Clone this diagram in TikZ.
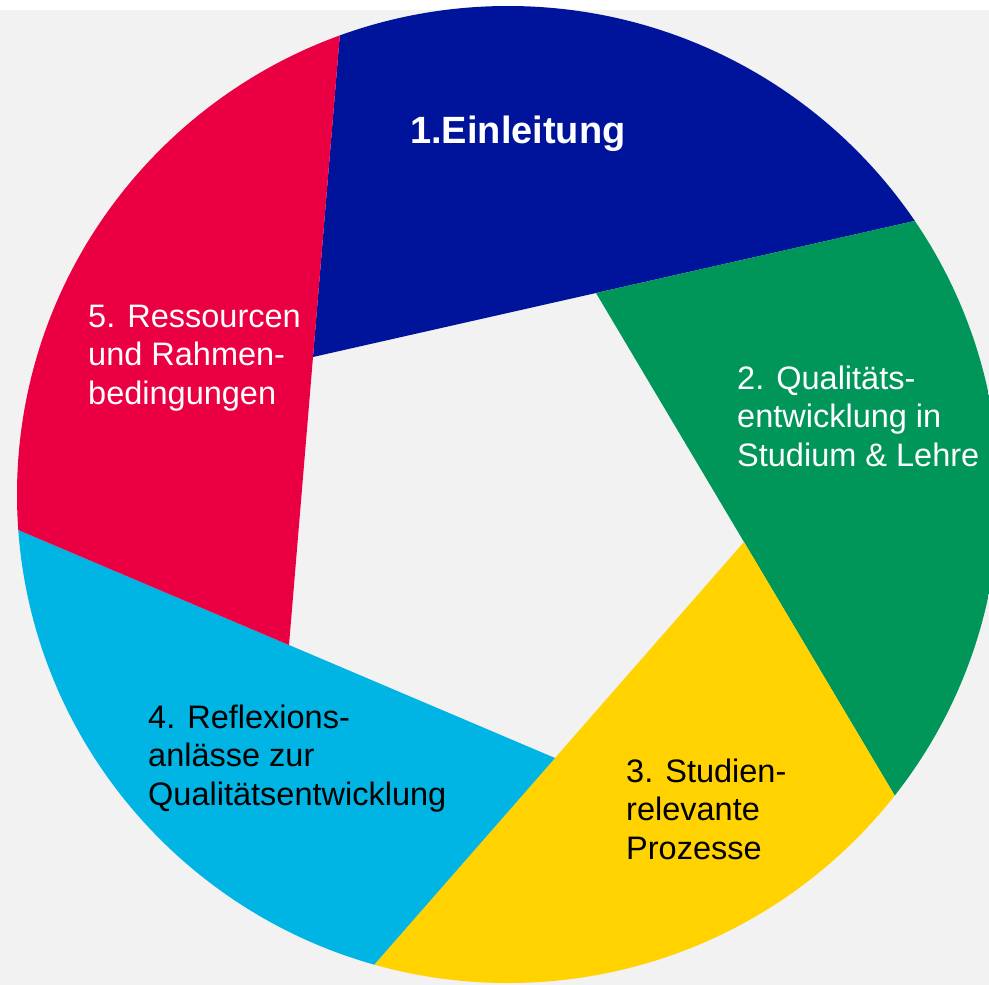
\documentclass[tikz,border=0pt]{standalone}
\usepackage{fontspec}
\setmainfont{Liberation Sans}
\usetikzlibrary{calc}
\definecolor{bgray}{RGB}{242,242,242}
\definecolor{bladeblue}{RGB}{0,20,155}
\definecolor{bladered}{RGB}{234,0,66}
\definecolor{bladegreen}{RGB}{0,150,90}
\definecolor{bladeyellow}{RGB}{255,210,0}
\definecolor{bladecyan}{RGB}{0,180,228}
\begin{document}
\begin{tikzpicture}[x=1pt,y=-1pt,
  lbl/.style={anchor=base west, inner sep=0pt, font=\fontsize{32.5}{38.5}\selectfont},
  ttl/.style={anchor=base west, inner sep=0pt, font=\fontsize{38}{38}\selectfont\bfseries}]
\useasboundingbox (0,0) rectangle (989,985);
\fill[white] (0,0) rectangle (989,985);
\fill[bgray] (0,10) rectangle (989,985);
\coordinate (V1) at (313,357);
\coordinate (V2) at (596,293);
\coordinate (V3) at (744,542);
\coordinate (V4) at (555,758);
\coordinate (V5) at (289,645);
\coordinate (O) at (508,494.5);
\begin{scope}
  \clip (O) ellipse [x radius=491pt, y radius=488.5pt];
  \fill[bladeblue]   (V1) -- ($(V1)!8!(V2)$) -- ($(V5)!9!(V1)$) -- cycle;
  \fill[bladegreen]  (V2) -- ($(V2)!8!(V3)$) -- ($(V1)!9!(V2)$) -- cycle;
  \fill[bladeyellow] (V3) -- ($(V3)!8!(V4)$) -- ($(V2)!9!(V3)$) -- cycle;
  \fill[bladecyan]   (V4) -- ($(V4)!8!(V5)$) -- ($(V3)!9!(V4)$) -- cycle;
  \fill[bladered]    (V5) -- ($(V5)!8!(V1)$) -- ($(V4)!9!(V5)$) -- cycle;
\end{scope}
\node[ttl, text=white] (t1) at (410,143) {1.Einleitung};
\node[lbl, text=white] (t2) at (737,389) {\begin{tabular}[t]{@{}l@{}}2. Qualitäts-\\entwicklung in\\Studium \& Lehre\end{tabular}};
\node[lbl, text=black] (t3) at (626,782) {\begin{tabular}[t]{@{}l@{}}3. Studien-\\relevante\\Prozesse\end{tabular}};
\node[lbl, text=black] (t4) at (148,728) {\begin{tabular}[t]{@{}l@{}}4. Reflexions-\\anlässe zur\\Qualitätsentwicklung\end{tabular}};
\node[lbl, text=white] (t5) at (88,327) {\begin{tabular}[t]{@{}l@{}}5. Ressourcen\\und Rahmen-\\bedingungen\end{tabular}};
\end{tikzpicture}
\end{document}
